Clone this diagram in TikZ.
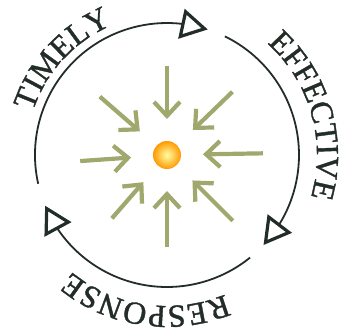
\documentclass[tikz,border=0pt]{standalone}
\usepackage{fontspec}
\setmainfont{Liberation Serif}
\newfontfamily\ringface{Liberation Serif}[FakeBold=1.2]
\usetikzlibrary{arrows.meta,bending,decorations.text}

\definecolor{ink}{RGB}{35,45,40}
\definecolor{leaf}{RGB}{160,168,110}
\newcommand{\ringfont}{\ringface\fontsize{32}{32}\selectfont}

\begin{document}
\begin{tikzpicture}[x=1pt,y=1pt,
  ring/.style={draw=ink, line width=1.8pt, -{Triangle[open,length=27pt,width=30pt,line width=3.2pt]}},
  ringtext/.style={decorate, decoration={text along path, text align=fit to path, text color=ink}},
  pull/.style={draw=leaf, line width=4.2pt, -{Straight Barb[length=14pt,width=26pt]}},
  sunball/.style={circle, minimum size=28pt, inner sep=0pt, outer sep=22pt, inner color=yellow!35!white, outer color=orange!80!yellow}]
  \useasboundingbox (-167,-180) rectangle (174,155);

  % centre
  \node[sunball] (sun) at (0,0) {};

  % arrows pulling in
  \foreach \a/\r [count=\i] in {90/89,44/91,1/96,-45/93,-90/92,-131/84,184/87,139/89} {
    \coordinate (p\i) at (\a:\r);
    \draw[pull] (p\i) -- (sun);
  }

  % the cycle
  \coordinate (c1) at (192.6:132);
  \coordinate (c2) at (64:132);
  \coordinate (c3) at (-51:132);
  \draw[ring] (c1) arc[start angle=192.6, end angle=72, radius=132];
  \draw[ring] (c2) arc[start angle=64, end angle=-43, radius=132];
  \draw[ring] (c3) arc[start angle=-51, end angle=-157.4, radius=132];

  % labels round the ring
  \path[ringtext, decoration={text={|\ringfont|TIMELY}}]
    (162:141) arc[start angle=162, end angle=115, radius=141];
  \path[ringtext, decoration={text={|\ringfont|EFFECTIVE}}]
    (48.1:150) arc[start angle=48.1, end angle=-16.4, radius=150];
  \path[ringtext, decoration={text={|\ringfont|RESPONSE}}]
    (-67.3:151) arc[start angle=-67.3, end angle=-129.4, radius=151];
\end{tikzpicture}
\end{document}
